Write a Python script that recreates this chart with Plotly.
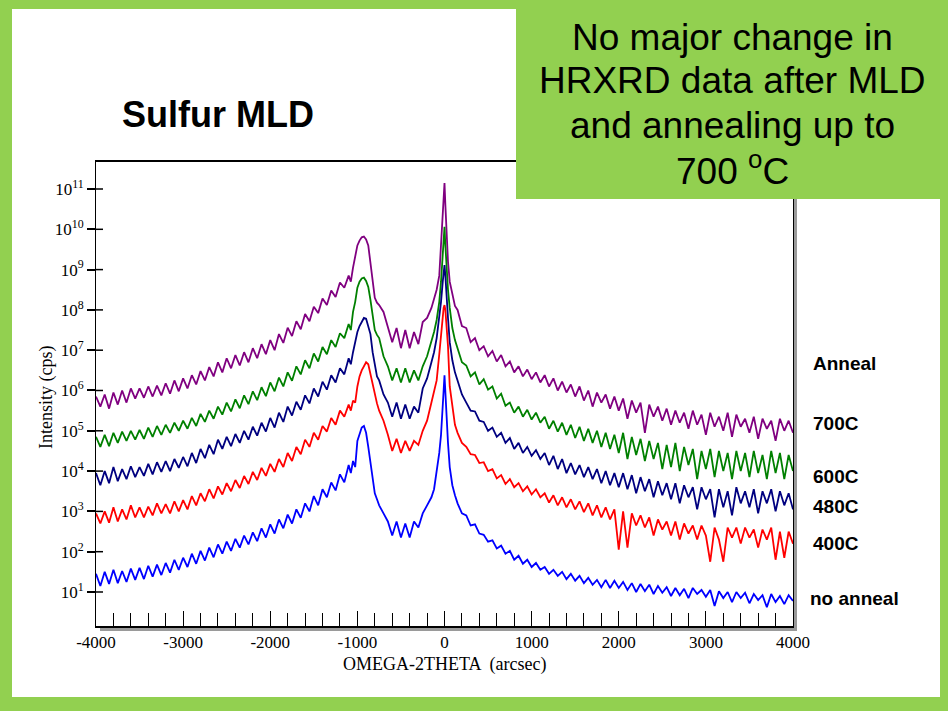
import plotly.graph_objects as go

# ---------------- data (log10 of intensity in cps) -------------
x_scan = (list(range(-4000, -1149, 50)) + list(range(-1100, -749, 25)) +
          list(range(-700, -149, 50)) +
          [-120, -90, -60, -40, -20, -10, 0, 10, 20, 40, 60, 90, 120] +
          list(range(150, 4001, 50)))

log_700C = [
    5.85, 5.6, 5.9, 5.55, 5.95, 5.65, 6.0, 5.7, 6.05, 5.8, 6.05, 5.82, 6.1, 5.85, 6.12, 5.88,
    6.18, 5.92, 6.25, 5.98, 6.3, 6.05, 6.38, 6.15, 6.48, 6.25, 6.58, 6.35, 6.7, 6.45, 6.8, 6.55,
    6.88, 6.62, 6.95, 6.7, 7.05, 6.8, 7.15, 6.9, 7.25, 7.0, 7.4, 7.18, 7.56, 7.35, 7.72, 7.52,
    7.9, 7.72, 8.08, 7.92, 8.28, 8.12, 8.48, 8.32, 8.68, 8.55,
    8.85, 8.7, 9.05, 9.3, 9.6, 9.72, 9.8, 9.82, 9.75, 9.6, 9.15, 8.7, 8.3, 8.18, 8.12,
    7.95, 7.55, 7.2, 7.55, 7.05, 7.5, 7.05, 7.45, 7.15, 7.7, 7.8, 8.05,
    8.3, 8.5, 8.85, 9.6, 10.2, 10.7, 11.15, 10.6, 10.0, 9.2, 8.7, 8.35, 8.1,
    8.0, 7.6, 7.55, 7.2, 7.3, 7.0, 7.1, 6.85, 6.98, 6.72, 6.88, 6.6, 6.72, 6.45, 6.6, 6.35,
    6.52, 6.28, 6.45, 6.2, 6.38, 6.1, 6.3, 6.0, 6.22, 5.95, 6.15, 5.85, 6.1, 5.75, 6.0, 5.6,
    5.95, 5.7, 5.9, 5.55, 5.85, 5.5, 5.8, 5.3, 5.75, 5.45, 5.7, 4.95, 5.65, 5.35, 5.6, 5.25,
    5.55, 5.15, 5.5, 5.2, 5.45, 5.05, 5.5, 5.15, 5.4, 4.9, 5.45, 5.1, 5.35, 5.0, 5.45, 4.85,
    5.4, 5.1, 5.3, 4.95, 5.35, 4.8, 5.3, 5.05, 5.25, 4.75, 5.3, 5.0, 5.25, 4.95,
]

log_600C = [
    4.85, 4.6, 4.9, 4.62, 4.95, 4.7, 4.98, 4.75, 5.0, 4.78, 5.02, 4.8, 5.08, 4.85, 5.12, 4.9,
    5.15, 4.95, 5.2, 5.0, 5.25, 5.05, 5.32, 5.12, 5.42, 5.22, 5.5, 5.3, 5.6, 5.4, 5.7, 5.48,
    5.78, 5.56, 5.88, 5.66, 5.98, 5.76, 6.08, 5.86, 6.2, 5.98, 6.32, 6.1, 6.45, 6.24, 6.6, 6.4,
    6.75, 6.55, 6.92, 6.72, 7.08, 6.9, 7.25, 7.08, 7.42, 7.3,
    7.65, 7.5, 7.95, 8.2, 8.55, 8.7, 8.78, 8.8, 8.72, 8.57, 8.25, 7.9, 7.5, 7.38, 7.3,
    6.85, 6.6, 6.25, 6.55, 6.2, 6.55, 6.2, 6.5, 6.25, 6.6, 6.85, 7.2,
    7.45, 7.75, 8.2, 8.7, 9.3, 9.7, 10.06, 9.6, 9.1, 8.5, 8.05, 7.55, 7.25,
    7.05, 6.7, 6.62, 6.35, 6.45, 6.15, 6.28, 6.02, 6.1, 5.8, 5.92, 5.62, 5.7, 5.45, 5.6, 5.35,
    5.52, 5.28, 5.45, 5.2, 5.35, 5.05, 5.25, 4.98, 5.2, 4.9, 5.15, 4.82, 5.1, 4.75, 5.05, 4.7,
    5.0, 4.6, 4.95, 4.55, 4.9, 4.45, 4.95, 4.3, 4.85, 4.4, 4.8, 4.25, 4.75, 4.3, 4.7, 4.05,
    4.65, 4.1, 4.7, 4.0, 4.6, 4.15, 4.55, 3.8, 4.5, 4.05, 4.55, 3.85, 4.5, 4.0, 4.45, 3.8,
    4.5, 4.0, 4.45, 3.85, 4.5, 3.95, 4.4, 3.8, 4.5, 3.95, 4.45, 3.8, 4.4, 4.0,
]

log_480C = [
    3.95, 3.65, 4.0, 3.7, 4.1, 3.75, 4.05, 3.8, 4.12, 3.85, 4.1, 3.88, 4.18, 3.92, 4.22, 3.98,
    4.25, 4.0, 4.3, 4.08, 4.35, 4.12, 4.45, 4.2, 4.55, 4.32, 4.65, 4.42, 4.78, 4.55, 4.85, 4.62,
    4.92, 4.7, 5.0, 4.78, 5.1, 4.88, 5.2, 4.98, 5.32, 5.08, 5.45, 5.22, 5.6, 5.38, 5.72, 5.52,
    5.88, 5.68, 6.05, 5.85, 6.22, 6.02, 6.38, 6.2, 6.55, 6.4,
    6.8, 6.65, 6.95, 7.2, 7.45, 7.6, 7.72, 7.8, 7.78, 7.6, 7.4, 6.95, 6.6, 6.35, 6.25,
    5.9, 5.7, 5.35, 5.7, 5.3, 5.65, 5.3, 5.6, 5.45, 6.05, 6.3, 6.7,
    6.95, 7.3, 7.8, 8.2, 8.7, 8.95, 9.11, 8.85, 8.4, 7.8, 7.2, 6.75, 6.45,
    6.25, 5.9, 5.7, 5.5, 5.48, 5.25, 5.22, 5.0, 5.08, 4.85, 4.95, 4.7, 4.82, 4.55, 4.7, 4.45,
    4.6, 4.38, 4.52, 4.3, 4.45, 4.15, 4.38, 4.05, 4.3, 3.95, 4.2, 3.92, 4.15, 3.85, 4.1, 3.8,
    4.05, 3.7, 4.0, 3.65, 3.95, 3.6, 3.95, 3.55, 3.9, 3.45, 3.85, 3.5, 3.8, 3.35, 3.75, 3.4,
    3.7, 3.3, 3.7, 3.2, 3.65, 3.35, 3.6, 3.05, 3.6, 3.3, 3.55, 2.85, 3.55, 3.1, 3.5, 2.9,
    3.6, 3.2, 3.5, 3.1, 3.55, 2.95, 3.5, 3.2, 3.55, 3.0, 3.5, 3.15, 3.45, 3.05,
]

log_400C = [
    2.95, 2.7, 3.0, 2.72, 3.1, 2.75, 3.05, 2.8, 3.15, 2.85, 3.1, 2.85, 3.12, 2.9, 3.2, 2.95,
    3.18, 2.95, 3.25, 3.0, 3.28, 3.05, 3.38, 3.15, 3.45, 3.25, 3.55, 3.32, 3.62, 3.42, 3.7, 3.5,
    3.78, 3.58, 3.88, 3.68, 3.98, 3.78, 4.08, 3.88, 4.18, 3.98, 4.3, 4.1, 4.45, 4.25, 4.6, 4.42,
    4.78, 4.6, 4.95, 4.78, 5.12, 4.98, 5.32, 5.15, 5.5, 5.35,
    5.65, 5.5, 5.75, 5.7, 6.1, 6.35, 6.5, 6.62, 6.7, 6.65, 6.4, 6.15, 5.9, 5.68, 5.5,
    5.25, 4.9, 4.5, 4.8, 4.45, 4.75, 4.5, 4.75, 4.65, 5.0, 5.25, 5.7,
    5.95, 6.25, 6.9, 7.4, 7.9, 8.05, 8.12, 8.0, 7.7, 7.1, 6.1, 5.55, 5.15,
    4.95, 4.7, 4.6, 4.42, 4.4, 4.2, 4.22, 4.0, 4.05, 3.82, 3.9, 3.68, 3.8, 3.6, 3.7, 3.5,
    3.62, 3.42, 3.55, 3.35, 3.45, 3.22, 3.4, 3.15, 3.35, 3.1, 3.3, 3.05, 3.25, 2.98, 3.2, 2.9,
    3.15, 2.85, 3.1, 2.8, 3.05, 2.05, 3.0, 2.1, 2.95, 2.65, 2.9, 2.6, 2.85, 2.4, 2.8, 2.55,
    2.75, 2.4, 2.75, 2.3, 2.7, 2.45, 2.65, 2.3, 2.65, 2.4, 1.75, 2.6, 2.3, 1.75, 2.6, 2.35,
    2.6, 2.2, 2.6, 2.35, 2.55, 2.1, 2.55, 2.3, 2.6, 1.8, 2.5, 1.85, 2.5, 2.2,
]

log_no_anneal = [
    1.45, 1.15, 1.5, 1.2, 1.55, 1.22, 1.52, 1.25, 1.58, 1.3, 1.6, 1.32, 1.65, 1.38, 1.68, 1.42,
    1.72, 1.48, 1.8, 1.55, 1.85, 1.62, 1.95, 1.7, 2.02, 1.78, 2.1, 1.86, 2.18, 1.95, 2.25, 2.02,
    2.32, 2.1, 2.4, 2.18, 2.48, 2.26, 2.58, 2.35, 2.68, 2.45, 2.8, 2.58, 2.92, 2.7, 3.05, 2.84,
    3.2, 3.0, 3.38, 3.15, 3.55, 3.35, 3.72, 3.52, 3.92, 3.72,
    4.15, 3.95, 4.25, 4.1, 4.75, 4.95, 5.08, 5.12, 4.95, 4.6, 4.2, 3.75, 3.45, 3.3, 3.15,
    2.95, 2.75, 2.4, 2.75, 2.35, 2.7, 2.35, 2.75, 2.6, 2.95, 3.15, 3.35,
    3.55, 4.0, 4.45, 4.9, 5.5, 6.0, 6.38, 5.9, 5.35, 4.7, 4.1, 3.65, 3.4,
    3.2, 2.95, 2.9, 2.65, 2.68, 2.45, 2.42, 2.25, 2.28, 2.08, 2.15, 1.95, 2.02, 1.8, 1.9, 1.7,
    1.8, 1.62, 1.72, 1.55, 1.62, 1.45, 1.55, 1.4, 1.5, 1.32, 1.45, 1.28, 1.4, 1.22, 1.35, 1.18,
    1.3, 1.12, 1.3, 1.1, 1.28, 1.1, 1.25, 1.05, 1.22, 1.0, 1.2, 1.02, 1.18, 0.95, 1.15, 0.98,
    1.12, 0.9, 1.1, 0.92, 1.08, 0.85, 1.1, 0.95, 1.05, 0.88, 1.05, 0.65, 1.02, 0.85, 1.0, 0.75,
    1.0, 0.85, 0.98, 0.72, 0.95, 0.8, 0.92, 0.62, 0.95, 0.75, 0.9, 0.7, 0.92, 0.78,
]

series_names = ["700C", "600C", "480C", "400C", "no anneal"]
series_logs = [log_700C, log_600C, log_480C, log_400C, log_no_anneal]
series_colors = ["#800080", "#008000", "#000080", "#FF0000", "#0000FF"]

y_tick_exps = list(range(1, 12))
x_tick_vals = list(range(-4000, 4001, 1000))

# ---------------- layout constants (pixels) ----------------
W, H = 948, 711
L, R, T, B = 96, 793, 162, 626
GREEN = "#92D050"


def px(p):
    return (p - L) / (R - L)


def py(p):
    return (B - p) / (B - T)


fig = go.Figure()
for name, logs, color in zip(series_names, series_logs, series_colors):
    assert len(logs) == len(x_scan), (name, len(logs), len(x_scan))
    fig.add_trace(go.Scatter(
        x=x_scan, y=[10 ** v for v in logs], mode="lines", name=name,
        line=dict(color=color, width=1.8), showlegend=False, hoverinfo="skip"))

serif = "Liberation Serif, Times New Roman, serif"
sans = "Liberation Sans, Arial, sans-serif"

fig.update_layout(
    width=W, height=H,
    margin=dict(l=L, r=W - R, t=T, b=H - B, autoexpand=False),
    paper_bgcolor=GREEN, plot_bgcolor="rgba(0,0,0,0)",
    font=dict(family=serif, color="black", size=17),
)
fig.update_xaxes(
    range=[-4000, 4000], tickvals=x_tick_vals,
    ticktext=[str(v) for v in x_tick_vals],
    ticks="inside", ticklen=15, tickwidth=1, tickcolor="black",
    minor=dict(dtick=200, tick0=-4000, ticks="inside", ticklen=13, tickwidth=1, tickcolor="black"),
    showline=True, linecolor="black", linewidth=1.5, mirror=True,
    showgrid=False, zeroline=False, tickfont=dict(family=serif, size=17),
)
fig.update_yaxes(
    type="log", range=[0.156, 11.67],
    tickvals=[10 ** e for e in y_tick_exps],
    ticktext=[f"10<sup>{e}</sup>" for e in y_tick_exps],
    ticks="outside", ticklen=8, tickwidth=1.5, tickcolor="black",
    showline=True, linecolor="black", linewidth=1, mirror=True,
    showgrid=False, zeroline=False, tickfont=dict(family=serif, size=17),
)

shapes = [
    # white slide area
    dict(type="rect", xref="paper", yref="paper", x0=px(12), x1=px(940), y0=py(697), y1=py(9),
         fillcolor="white", line=dict(width=0), layer="below"),
    # axis shadows
    dict(type="rect", xref="paper", yref="paper", x0=px(100), x1=px(797), y0=py(631), y1=py(627),
         fillcolor="#9a9a9a", line=dict(width=0), layer="below"),
    dict(type="rect", xref="paper", yref="paper", x0=px(794), x1=px(797), y0=py(631), y1=py(166),
         fillcolor="#9a9a9a", line=dict(width=0), layer="below"),
]
# inner half of the y-axis ticks (ticks cross the axis line in the original)
for e in y_tick_exps:
    shapes.append(dict(type="line", xref="paper", yref="y", x0=0, x1=px(103),
                       y0=10 ** e, y1=10 ** e, line=dict(color="black", width=1.5), layer="above"))
# green call-out box
shapes.append(dict(type="rect", xref="paper", yref="paper", x0=px(516), x1=px(948), y0=py(199), y1=py(0),
                   fillcolor=GREEN, line=dict(width=0), layer="above"))
fig.update_layout(shapes=shapes)

ann = []
box_lines = ["No major change in", "HRXRD data after MLD", "and annealing up to", "700 <sup>o</sup>C"]
box_y = [37, 80, 125, 168]
for txt, yy in zip(box_lines, box_y):
    ann.append(dict(text=txt, x=px(732), y=py(yy), xref="paper", yref="paper",
                    xanchor="center", yanchor="middle", showarrow=False,
                    font=dict(family=sans, size=37, color="black")))

ann.append(dict(text="<b>Sulfur MLD</b>", x=px(120), y=py(114), xref="paper", yref="paper",
                xanchor="left", yanchor="middle", showarrow=False,
                font=dict(family=sans, size=36, color="black")))

label_texts = ["Anneal", "700C", "600C", "480C", "400C", "no anneal"]
label_y = [363, 423, 476, 506, 543, 598]
label_x = [811, 811, 811, 811, 811, 808]
for txt, xx, yy in zip(label_texts, label_x, label_y):
    ann.append(dict(text=f"<b>{txt}</b>", x=px(xx), y=py(yy), xref="paper", yref="paper",
                    xanchor="left", yanchor="middle", showarrow=False,
                    font=dict(family=sans, size=19, color="black")))

ann.append(dict(text="Intensity (cps)", x=px(46), y=py(398), xref="paper", yref="paper",
                xanchor="center", yanchor="middle", textangle=-90, showarrow=False,
                font=dict(family=serif, size=18, color="black")))
ann.append(dict(text="OMEGA-2THETA  (arcsec)", x=px(444), y=py(664), xref="paper", yref="paper",
                xanchor="center", yanchor="middle", showarrow=False,
                font=dict(family=serif, size=18, color="black")))
fig.update_layout(annotations=ann)

fig.write_html("out.html")
